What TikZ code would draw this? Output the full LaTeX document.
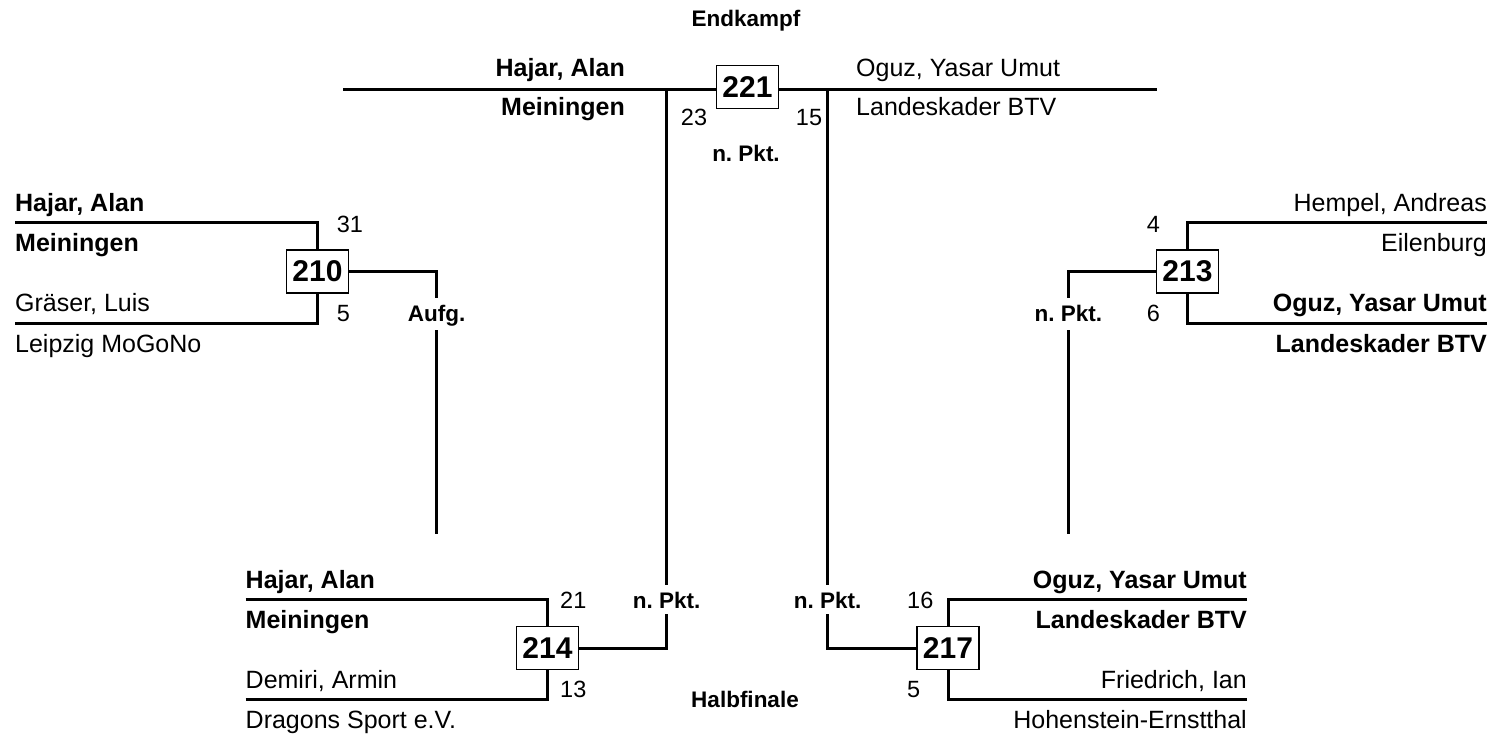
\documentclass[tikz,border=0pt]{standalone}
\usepackage{fontspec}
\setmainfont{Liberation Sans}
\begin{document}
\begin{tikzpicture}[x=1pt,y=-1pt,
  wire/.style={line width=3pt},
  matchbox/.style={draw, line width=1.3pt, fill=white, minimum width=62pt, minimum height=43pt, inner sep=0pt, font=\fontsize{30}{30}\selectfont\bfseries},
  pname/.style={inner sep=0pt, font=\fontsize{25}{30}\selectfont},
  wname/.style={inner sep=0pt, font=\fontsize{25}{30}\selectfont\bfseries},
  score/.style={inner sep=0pt, font=\fontsize{23.5}{28}\selectfont},
  note/.style={inner sep=0pt, font=\fontsize{22.5}{27}\selectfont\bfseries}]
\fill[white] (0,0) rectangle (1492,738);
\useasboundingbox (0,0) rectangle (1492,738);

% ---------- Final 221 ----------
\node[note, anchor=base] (endk) at (746,27) {Endkampf};
\coordinate (fL) at (343,90);
\coordinate (fR) at (1157,90);
\draw[wire] (fL) -- (fR);
\node[wname, anchor=base east] (fwn) at (625,77) {Hajar, Alan};
\node[wname, anchor=base east] (fwc) at (625,116) {Meiningen};
\node[pname, anchor=base west] (fln) at (856,77) {Oguz, Yasar Umut};
\node[pname, anchor=base west] (flc) at (856,116) {Landeskader BTV};
\node[score, anchor=base] (s23) at (694,126) {23};
\node[score, anchor=base] (s15) at (809,126) {15};
\node[note, anchor=base] (n221) at (746,162) {n.\ Pkt.};

% ---------- Match 210 ----------
\node[matchbox] (m210) at (317.5,271.5) {210};
\coordinate (a1) at (15,223);
\coordinate (a2) at (15,323);
\draw[wire] (a1) -- (a1 -| m210) -- (m210.north);
\draw[wire] (a2) -- (a2 -| m210) -- (m210.south);
\node[wname, anchor=base west] (t210a) at (15,212) {Hajar, Alan};
\node[wname, anchor=base west] (t210b) at (15,252) {Meiningen};
\node[pname, anchor=base west] (t210c) at (15,312) {Gräser, Luis};
\node[pname, anchor=base west] (t210d) at (15,352) {Leipzig MoGoNo};
\node[score, anchor=base west] (s210a) at (336.7,232.7) {31};
\node[score, anchor=base west] (s210b) at (336.7,321.7) {5};
\node[note, anchor=base] (l210) at (436.7,321.7) {Aufg.};
\coordinate (g210a) at (436.7,298.3);
\coordinate (g210b) at (436.7,330);
\coordinate (e210) at (436.7,534);
\draw[wire] (m210.east) -- (m210.east -| g210a) -- (g210a);
\draw[wire] (g210b) -- (e210);

% ---------- Match 213 ----------
\node[matchbox] (m213) at (1187.5,271.5) {213};
\coordinate (b1) at (1487,223);
\coordinate (b2) at (1487,323);
\draw[wire] (b1) -- (b1 -| m213) -- (m213.north);
\draw[wire] (b2) -- (b2 -| m213) -- (m213.south);
\node[pname, anchor=base east] (t213a) at (1487,212) {Hempel, Andreas};
\node[pname, anchor=base east] (t213b) at (1487,252) {Eilenburg};
\node[wname, anchor=base east] (t213c) at (1487,312) {Oguz, Yasar Umut};
\node[wname, anchor=base east] (t213d) at (1487,352) {Landeskader BTV};
\node[score, anchor=base west] (s213a) at (1146.7,232.7) {4};
\node[score, anchor=base west] (s213b) at (1146.7,321.7) {6};
\node[note, anchor=base] (l213) at (1068.3,321.7) {n.\ Pkt.};
\coordinate (g213a) at (1068.3,298.3);
\coordinate (g213b) at (1068.3,330);
\coordinate (e213) at (1068.3,534);
\draw[wire] (m213.west) -- (m213.west -| g213a) -- (g213a);
\draw[wire] (g213b) -- (e213);

% ---------- Match 214 ----------
\node[matchbox] (m214) at (547.5,648) {214};
\coordinate (c1) at (245.5,599);
\coordinate (c2) at (245.5,699);
\draw[wire] (c1) -- (c1 -| m214) -- (m214.north);
\draw[wire] (c2) -- (c2 -| m214) -- (m214.south);
\node[wname, anchor=base west] (t214a) at (245.5,588) {Hajar, Alan};
\node[wname, anchor=base west] (t214b) at (245.5,628) {Meiningen};
\node[pname, anchor=base west] (t214c) at (245.5,688) {Demiri, Armin};
\node[pname, anchor=base west] (t214d) at (245.5,728) {Dragons Sport e.V.};
\node[score, anchor=base west] (s214a) at (560,608.7) {21};
\node[score, anchor=base west] (s214b) at (560,697.7) {13};
\node[note, anchor=base] (l214) at (666.7,608.3) {n.\ Pkt.};
\coordinate (v1top) at (666.7,90);
\coordinate (v1a) at (666.7,585);
\coordinate (v1b) at (666.7,614);
\draw[wire] (v1top) -- (v1a);
\draw[wire] (v1b) -- (v1b |- m214.east) -- (m214.east);

% ---------- Match 217 ----------
\node[matchbox] (m217) at (948,648) {217};
\coordinate (d1) at (1247,599);
\coordinate (d2) at (1247,699);
\draw[wire] (d1) -- (d1 -| m217) -- (m217.north);
\draw[wire] (d2) -- (d2 -| m217) -- (m217.south);
\node[wname, anchor=base east] (t217a) at (1247,588) {Oguz, Yasar Umut};
\node[wname, anchor=base east] (t217b) at (1247,628) {Landeskader BTV};
\node[pname, anchor=base east] (t217c) at (1247,688) {Friedrich, Ian};
\node[pname, anchor=base east] (t217d) at (1247,728) {Hohenstein-Ernstthal};
\node[score, anchor=base west] (s217a) at (907,608.7) {16};
\node[score, anchor=base west] (s217b) at (907,697.7) {5};
\node[note, anchor=base] (l217) at (827.7,608.3) {n.\ Pkt.};
\coordinate (v2top) at (827.7,90);
\coordinate (v2a) at (827.7,585);
\coordinate (v2b) at (827.7,614);
\draw[wire] (v2top) -- (v2a);
\draw[wire] (v2b) -- (v2b |- m217.west) -- (m217.west);

\node[note, anchor=base] (halb) at (745,707.3) {Halbfinale};

% box of the final drawn last, over the line
\node[matchbox] (m221) at (747.5,87) {221};
\end{tikzpicture}
\end{document}
